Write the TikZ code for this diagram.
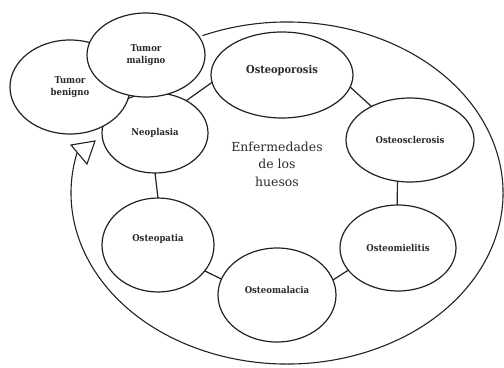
\documentclass[tikz,border=0pt]{standalone}
\usepackage{fontspec}
\setmainfont{DejaVu Serif}
\newfontfamily\lblfont{DejaVu Serif Condensed}
\usetikzlibrary{shapes.geometric}
\definecolor{ink}{HTML}{222222}
\definecolor{txt}{HTML}{2A2A2A}
\tikzset{
  bubble/.style={ellipse, draw=ink, line width=1.2bp, fill=white, inner sep=0pt,
    outer sep=0pt, text=txt, align=center,
    font=\lblfont\bfseries\fontsize{9.5}{12}\selectfont},
  link/.style={draw=ink, line width=1.2bp},
  cycle line/.style={draw=ink, line width=1.1bp},
  lift/.style={text depth=#1},
}
\begin{document}
\begin{tikzpicture}[x=1bp,y=1bp]
\useasboundingbox (0,0) rectangle (504,367);

% outer cycle arc, starting at the rim of "Tumor maligno"
\coordinate (arcS) at (202.6,331.4);
\draw[cycle line] (arcS) arc[start angle=113, end angle=-193.5, x radius=216, y radius=171]
  coordinate (tip);
% open arrowhead next to the end of the arc
\draw[cycle line, line join=miter] (71,222) -- (95,226) -- (87,203) -- cycle;

% central title
\node[text=txt, align=center, font=\fontsize{12.5}{17.5}\selectfont] (title) at (277,203)
  {Enfermedades\\de los\\huesos};

% ring of bone diseases
\node[bubble, minimum width=142bp, minimum height=86bp, lift=12bp,
  font=\lblfont\bfseries\fontsize{11}{14}\selectfont] (opor) at (282,292) {Osteoporosis};
\node[bubble, minimum width=128bp, minimum height=84bp] (oscl) at (410,227) {Osteosclerosis};
\node[bubble, minimum width=116bp, minimum height=86bp] (omie) at (398,119) {Osteomielitis};
\node[bubble, minimum width=118bp, minimum height=94bp, lift=10bp] (omal) at (277,72) {Osteomalacia};
\node[bubble, minimum width=112bp, minimum height=94bp, lift=14bp] (opat) at (158,122) {Osteopatia};
\node[bubble, minimum width=106bp, minimum height=80bp] (neo) at (155,234) {Neoplasia};

% tumour types, stacked over Neoplasia
\node[bubble, minimum width=120bp, minimum height=94bp] (beni) at (70,280) {Tumor\\benigno};
\node[bubble, minimum width=118bp, minimum height=84bp] (mali) at (146,312) {Tumor\\maligno};

% links around the ring
\draw[link] (opor.-10) -- (oscl.139);
\draw[link] (oscl.-107) -- (omie.91);
\draw[link] (omie.-156) -- (omal.15);
\draw[link] (omal.164) -- (opat.-29);
\draw[link] (opat.north) -- (neo.south);
\draw[link] (neo.46) -- (opor.-174);
\end{tikzpicture}
\end{document}
